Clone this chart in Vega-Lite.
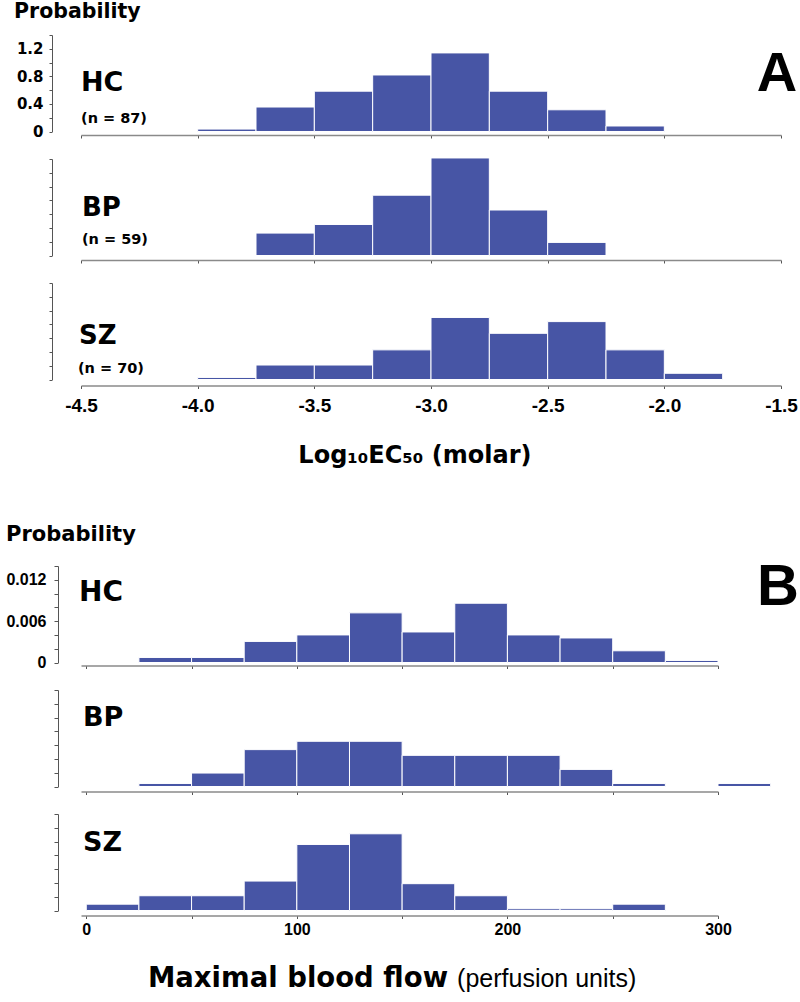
{
  "$schema": "https://vega.github.io/schema/vega-lite/v6.json",
  "background": "white",
  "padding": {"left": 5, "top": 1, "right": 5, "bottom": 5},
  "bounds": "flush",
  "spacing": 27,
  "config": {
    "view": {"stroke": null},
    "axis": {"grid": false, "labelFlush": false},
    "axisY": {"tickCount": 20, "tickSize": 3, "domainColor": "#555555", "tickColor": "#555555", "labelColor": "#000000", "labelOverlap": false, "labelBound": false, "labelFontWeight": "bold"}
  },
  "datasets": {
    "bars": [
      {"panel": "A", "group": "HC", "lo": -4.0, "hi": -3.75, "p": 0.035},
      {"panel": "A", "group": "HC", "lo": -3.75, "hi": -3.5, "p": 0.355},
      {"panel": "A", "group": "HC", "lo": -3.5, "hi": -3.25, "p": 0.585},
      {"panel": "A", "group": "HC", "lo": -3.25, "hi": -3.0, "p": 0.82},
      {"panel": "A", "group": "HC", "lo": -3.0, "hi": -2.75, "p": 1.14},
      {"panel": "A", "group": "HC", "lo": -2.75, "hi": -2.5, "p": 0.585},
      {"panel": "A", "group": "HC", "lo": -2.5, "hi": -2.25, "p": 0.315},
      {"panel": "A", "group": "HC", "lo": -2.25, "hi": -2.0, "p": 0.08},
      {"panel": "A", "group": "BP", "lo": -3.75, "hi": -3.5, "p": 0.325},
      {"panel": "A", "group": "BP", "lo": -3.5, "hi": -3.25, "p": 0.45},
      {"panel": "A", "group": "BP", "lo": -3.25, "hi": -3.0, "p": 0.875},
      {"panel": "A", "group": "BP", "lo": -3.0, "hi": -2.75, "p": 1.415},
      {"panel": "A", "group": "BP", "lo": -2.75, "hi": -2.5, "p": 0.66},
      {"panel": "A", "group": "BP", "lo": -2.5, "hi": -2.25, "p": 0.19},
      {"panel": "A", "group": "SZ", "lo": -4.0, "hi": -3.75, "p": 0.03},
      {"panel": "A", "group": "SZ", "lo": -3.75, "hi": -3.5, "p": 0.21},
      {"panel": "A", "group": "SZ", "lo": -3.5, "hi": -3.25, "p": 0.21},
      {"panel": "A", "group": "SZ", "lo": -3.25, "hi": -3.0, "p": 0.43},
      {"panel": "A", "group": "SZ", "lo": -3.0, "hi": -2.75, "p": 0.90},
      {"panel": "A", "group": "SZ", "lo": -2.75, "hi": -2.5, "p": 0.67},
      {"panel": "A", "group": "SZ", "lo": -2.5, "hi": -2.25, "p": 0.84},
      {"panel": "A", "group": "SZ", "lo": -2.25, "hi": -2.0, "p": 0.43},
      {"panel": "A", "group": "SZ", "lo": -2.0, "hi": -1.75, "p": 0.09},
      {"panel": "B", "group": "HC", "lo": 25, "hi": 50, "p": 0.00073},
      {"panel": "B", "group": "HC", "lo": 50, "hi": 75, "p": 0.00073},
      {"panel": "B", "group": "HC", "lo": 75, "hi": 100, "p": 0.00306},
      {"panel": "B", "group": "HC", "lo": 100, "hi": 125, "p": 0.0040},
      {"panel": "B", "group": "HC", "lo": 125, "hi": 150, "p": 0.0072},
      {"panel": "B", "group": "HC", "lo": 150, "hi": 175, "p": 0.00443},
      {"panel": "B", "group": "HC", "lo": 175, "hi": 200, "p": 0.0086},
      {"panel": "B", "group": "HC", "lo": 200, "hi": 225, "p": 0.0040},
      {"panel": "B", "group": "HC", "lo": 225, "hi": 250, "p": 0.00356},
      {"panel": "B", "group": "HC", "lo": 250, "hi": 275, "p": 0.0017},
      {"panel": "B", "group": "HC", "lo": 275, "hi": 300, "p": 0.0003},
      {"panel": "B", "group": "BP", "lo": 25, "hi": 50, "p": 0.00044},
      {"panel": "B", "group": "BP", "lo": 50, "hi": 75, "p": 0.00195},
      {"panel": "B", "group": "BP", "lo": 75, "hi": 100, "p": 0.00535},
      {"panel": "B", "group": "BP", "lo": 100, "hi": 125, "p": 0.00656},
      {"panel": "B", "group": "BP", "lo": 125, "hi": 150, "p": 0.00656},
      {"panel": "B", "group": "BP", "lo": 150, "hi": 175, "p": 0.00452},
      {"panel": "B", "group": "BP", "lo": 175, "hi": 200, "p": 0.00452},
      {"panel": "B", "group": "BP", "lo": 200, "hi": 225, "p": 0.00452},
      {"panel": "B", "group": "BP", "lo": 225, "hi": 250, "p": 0.00248},
      {"panel": "B", "group": "BP", "lo": 250, "hi": 275, "p": 0.00044},
      {"panel": "B", "group": "BP", "lo": 300, "hi": 325, "p": 0.00044},
      {"panel": "B", "group": "SZ", "lo": 0, "hi": 25, "p": 0.00092},
      {"panel": "B", "group": "SZ", "lo": 25, "hi": 50, "p": 0.00214},
      {"panel": "B", "group": "SZ", "lo": 50, "hi": 75, "p": 0.00214},
      {"panel": "B", "group": "SZ", "lo": 75, "hi": 100, "p": 0.00427},
      {"panel": "B", "group": "SZ", "lo": 100, "hi": 125, "p": 0.00958},
      {"panel": "B", "group": "SZ", "lo": 125, "hi": 150, "p": 0.01113},
      {"panel": "B", "group": "SZ", "lo": 150, "hi": 175, "p": 0.00389},
      {"panel": "B", "group": "SZ", "lo": 175, "hi": 200, "p": 0.00214},
      {"panel": "B", "group": "SZ", "lo": 200, "hi": 225, "p": 0.00025},
      {"panel": "B", "group": "SZ", "lo": 225, "hi": 250, "p": 0.00025},
      {"panel": "B", "group": "SZ", "lo": 250, "hi": 275, "p": 0.00092}
    ]
  },
  "vconcat": [
    {
      "width": 700, "height": 96.5,
      "layer": [
        {
          "data": {"name": "bars"},
          "transform": [{"filter": "datum.panel == 'A' && datum.group == 'HC'"}],
          "mark": {"type": "bar", "color": "#4755A5", "stroke": "#ffffff", "strokeWidth": 1},
          "encoding": {
            "x": {"field": "lo", "type": "quantitative", "scale": {"domain": [-4.5, -1.5], "nice": false, "zero": false},
                  "axis": {"title": null, "values": [-4.5, -4, -3.5, -3, -2.5, -2, -1.5], "labels": false, "offset": 3.5, "tickSize": 3, "domainColor": "#8a8a8a", "domainWidth": 1.5, "tickColor": "#555555"}},
            "x2": {"field": "hi"},
            "y": {"field": "p", "type": "quantitative", "scale": {"domain": [0, 1.4], "nice": false},
                  "axis": {"title": null, "values": [0, 0.2, 0.4, 0.6, 0.8, 1.0, 1.2, 1.4], "tickCount": 20, "labelOverlap": false, "labelBound": false, "offset": 29, "labelPadding": 6, "labelFont": "DejaVu Sans", "labelFontSize": 15, "labelExpr": "datum.value == 0 ? '0' : ((datum.value > 0.39 && datum.value < 0.41) || (datum.value > 0.79 && datum.value < 0.81) || (datum.value > 1.19 && datum.value < 1.21)) ? format(datum.value, '.1f') : ''"}},
            "y2": {"datum": 0}
          }
        },
        {
          "data": {"values": [{"t": "HC"}]},
          "mark": {"type": "text", "align": "left", "baseline": "alphabetic", "font": "DejaVu Sans", "fontWeight": "bold", "fontSize": 27, "color": "#000000"},
          "encoding": {"x": {"datum": -4.5}, "y": {"datum": 0.588, "axis": {"title": null, "values": [0, 0.2, 0.4, 0.6, 0.8, 1.0, 1.2, 1.4], "tickCount": 20, "labelOverlap": false, "labelBound": false, "offset": 29, "labelPadding": 6, "labelFont": "DejaVu Sans", "labelFontSize": 15, "labelExpr": "datum.value == 0 ? '0' : ((datum.value > 0.39 && datum.value < 0.41) || (datum.value > 0.79 && datum.value < 0.81) || (datum.value > 1.19 && datum.value < 1.21)) ? format(datum.value, '.1f') : ''"}}, "text": {"field": "t"}}
        },
        {
          "data": {"values": [{"t": "(n = 87)"}]},
          "mark": {"type": "text", "align": "left", "baseline": "alphabetic", "font": "DejaVu Sans", "fontWeight": "bold", "fontSize": 14.5, "color": "#000000"},
          "encoding": {"x": {"datum": -4.5}, "y": {"datum": 0.123, "axis": {"title": null, "values": [0, 0.2, 0.4, 0.6, 0.8, 1.0, 1.2, 1.4], "tickCount": 20, "labelOverlap": false, "labelBound": false, "offset": 29, "labelPadding": 6, "labelFont": "DejaVu Sans", "labelFontSize": 15, "labelExpr": "datum.value == 0 ? '0' : ((datum.value > 0.39 && datum.value < 0.41) || (datum.value > 0.79 && datum.value < 0.81) || (datum.value > 1.19 && datum.value < 1.21)) ? format(datum.value, '.1f') : ''"}}, "text": {"field": "t"}}
        },
        {
          "data": {"values": [{"t": "A"}]},
          "mark": {"type": "text", "align": "center", "baseline": "alphabetic", "font": "Liberation Sans", "fontWeight": "bold", "fontSize": 56, "color": "#000000"},
          "encoding": {"x": {"datum": -1.517}, "y": {"datum": 0.588, "axis": {"title": null, "values": [0, 0.2, 0.4, 0.6, 0.8, 1.0, 1.2, 1.4], "tickCount": 20, "labelOverlap": false, "labelBound": false, "offset": 29, "labelPadding": 6, "labelFont": "DejaVu Sans", "labelFontSize": 15, "labelExpr": "datum.value == 0 ? '0' : ((datum.value > 0.39 && datum.value < 0.41) || (datum.value > 0.79 && datum.value < 0.81) || (datum.value > 1.19 && datum.value < 1.21)) ? format(datum.value, '.1f') : ''"}}, "text": {"field": "t"}}
        },
        {
          "data": {"values": [{"t": "Probability"}]},
          "mark": {"type": "text", "align": "left", "baseline": "alphabetic", "font": "DejaVu Sans", "fontWeight": "bold", "fontSize": 20.5, "color": "#000000"},
          "encoding": {"x": {"datum": -4.787}, "y": {"datum": 1.647, "axis": {"title": null, "values": [0, 0.2, 0.4, 0.6, 0.8, 1.0, 1.2, 1.4], "tickCount": 20, "labelOverlap": false, "labelBound": false, "offset": 29, "labelPadding": 6, "labelFont": "DejaVu Sans", "labelFontSize": 15, "labelExpr": "datum.value == 0 ? '0' : ((datum.value > 0.39 && datum.value < 0.41) || (datum.value > 0.79 && datum.value < 0.81) || (datum.value > 1.19 && datum.value < 1.21)) ? format(datum.value, '.1f') : ''"}}, "text": {"field": "t"}}
        }
      ]
    },
    {
      "width": 700, "height": 96.5,
      "layer": [
        {
          "data": {"name": "bars"},
          "transform": [{"filter": "datum.panel == 'A' && datum.group == 'BP'"}],
          "mark": {"type": "bar", "color": "#4755A5", "stroke": "#ffffff", "strokeWidth": 1},
          "encoding": {
            "x": {"field": "lo", "type": "quantitative", "scale": {"domain": [-4.5, -1.5], "nice": false, "zero": false},
                  "axis": {"title": null, "values": [-4.5, -4, -3.5, -3, -2.5, -2, -1.5], "labels": false, "offset": 4.5, "tickSize": 3, "domainColor": "#8a8a8a", "domainWidth": 1.5, "tickColor": "#555555"}},
            "x2": {"field": "hi"},
            "y": {"field": "p", "type": "quantitative", "scale": {"domain": [0, 1.4], "nice": false},
                  "axis": {"title": null, "values": [0, 0.2, 0.4, 0.6, 0.8, 1.0, 1.2, 1.4], "tickCount": 20, "labels": false, "offset": 29}},
            "y2": {"datum": 0}
          }
        },
        {
          "data": {"values": [{"t": "BP"}]},
          "mark": {"type": "text", "align": "left", "baseline": "alphabetic", "font": "DejaVu Sans", "fontWeight": "bold", "fontSize": 26, "color": "#000000"},
          "encoding": {"x": {"datum": -4.496}, "y": {"datum": 0.58, "axis": {"title": null, "values": [0, 0.2, 0.4, 0.6, 0.8, 1.0, 1.2, 1.4], "tickCount": 20, "labels": false, "offset": 29}}, "text": {"field": "t"}}
        },
        {
          "data": {"values": [{"t": "(n = 59)"}]},
          "mark": {"type": "text", "align": "left", "baseline": "alphabetic", "font": "DejaVu Sans", "fontWeight": "bold", "fontSize": 14.5, "color": "#000000"},
          "encoding": {"x": {"datum": -4.496}, "y": {"datum": 0.16, "axis": {"title": null, "values": [0, 0.2, 0.4, 0.6, 0.8, 1.0, 1.2, 1.4], "tickCount": 20, "labels": false, "offset": 29}}, "text": {"field": "t"}}
        }
      ]
    },
    {
      "width": 700, "height": 96.5,
      "layer": [
        {
          "data": {"name": "bars"},
          "transform": [{"filter": "datum.panel == 'A' && datum.group == 'SZ'"}],
          "mark": {"type": "bar", "color": "#4755A5", "stroke": "#ffffff", "strokeWidth": 1},
          "encoding": {
            "x": {"field": "lo", "type": "quantitative", "scale": {"domain": [-4.5, -1.5], "nice": false, "zero": false},
                  "axis": {"title": null, "values": [-4.5, -4, -3.5, -3, -2.5, -2, -1.5], "offset": 6, "tickSize": 3, "labelPadding": 8, "labelFont": "Liberation Sans", "labelFontWeight": "bold", "labelFontSize": 19, "labelColor": "#000000", "labelOverlap": false, "labelBound": false, "labelExpr": "(datum.value < 0 ? '-' : '') + format(abs(datum.value), '.1f')", "domainColor": "#8a8a8a", "domainWidth": 1.5, "tickColor": "#555555"}},
            "x2": {"field": "hi"},
            "y": {"field": "p", "type": "quantitative", "scale": {"domain": [0, 1.4], "nice": false},
                  "axis": {"title": null, "values": [0, 0.2, 0.4, 0.6, 0.8, 1.0, 1.2, 1.4], "tickCount": 20, "labels": false, "offset": 29}},
            "y2": {"datum": 0}
          }
        },
        {
          "data": {"values": [{"t": "SZ"}]},
          "mark": {"type": "text", "align": "left", "baseline": "alphabetic", "font": "DejaVu Sans", "fontWeight": "bold", "fontSize": 26, "color": "#000000"},
          "encoding": {"x": {"datum": -4.509}, "y": {"datum": 0.515, "axis": {"title": null, "values": [0, 0.2, 0.4, 0.6, 0.8, 1.0, 1.2, 1.4], "tickCount": 20, "labels": false, "offset": 29}}, "text": {"field": "t"}}
        },
        {
          "data": {"values": [{"t": "(n = 70)"}]},
          "mark": {"type": "text", "align": "left", "baseline": "alphabetic", "font": "DejaVu Sans", "fontWeight": "bold", "fontSize": 14.5, "color": "#000000"},
          "encoding": {"x": {"datum": -4.513}, "y": {"datum": 0.094, "axis": {"title": null, "values": [0, 0.2, 0.4, 0.6, 0.8, 1.0, 1.2, 1.4], "tickCount": 20, "labels": false, "offset": 29}}, "text": {"field": "t"}}
        }
      ]
    },
    {
      "width": 700, "height": 132,
      "layer": [
        {
          "data": {"values": [{"t": "Log₁₀EC₅₀ (molar)"}]},
          "mark": {"type": "text", "align": "center", "baseline": "alphabetic", "font": "DejaVu Sans", "fontWeight": "bold", "fontSize": 24, "color": "#000000"},
          "encoding": {
            "x": {"datum": 0.477, "type": "quantitative", "scale": {"domain": [0, 1], "nice": false}, "axis": null},
            "y": {"datum": 0.572, "type": "quantitative", "scale": {"domain": [0, 1], "nice": false}, "axis": null},
            "text": {"field": "t"}
          }
        },
        {
          "data": {"values": [{"t": "Probability"}]},
          "mark": {"type": "text", "align": "left", "baseline": "alphabetic", "font": "DejaVu Sans", "fontWeight": "bold", "fontSize": 21, "color": "#000000"},
          "encoding": {
            "x": {"datum": -0.107, "type": "quantitative", "axis": null},
            "y": {"datum": -0.0114, "type": "quantitative", "axis": null},
            "text": {"field": "t"}
          }
        }
      ]
    },
    {
      "width": 637, "height": 96.5,
      "layer": [
        {
          "data": {"name": "bars"},
          "transform": [{"filter": "datum.panel == 'B' && datum.group == 'HC'"}],
          "mark": {"type": "bar", "color": "#4755A5", "stroke": "#ffffff", "strokeWidth": 1},
          "encoding": {
            "x": {"field": "lo", "type": "quantitative", "scale": {"domain": [-2.5, 300], "nice": false, "zero": false},
                  "axis": {"title": null, "values": [0, 50, 100, 150, 200, 250, 300], "labels": false, "offset": 3, "tickSize": 3, "domainColor": "#8a8a8a", "domainWidth": 1.5, "tickColor": "#555555"}},
            "x2": {"field": "hi"},
            "y": {"field": "p", "type": "quantitative", "scale": {"domain": [0, 0.014], "nice": false},
                  "axis": {"title": null, "values": [0, 0.002, 0.004, 0.006, 0.008, 0.010, 0.012, 0.014], "tickCount": 20, "labelOverlap": false, "labelBound": false, "offset": 23, "tickSize": 4, "labelPadding": 8, "labelFont": "Liberation Sans", "labelFontSize": 16, "labelExpr": "datum.value == 0 ? '0' : ((datum.value > 0.0059 && datum.value < 0.0061) || (datum.value > 0.0119 && datum.value < 0.0121)) ? format(datum.value, '.3f') : ''"}},
            "y2": {"datum": 0}
          }
        },
        {
          "data": {"values": [{"t": "HC"}]},
          "mark": {"type": "text", "align": "left", "baseline": "alphabetic", "font": "DejaVu Sans", "fontWeight": "bold", "fontSize": 28, "color": "#000000"},
          "encoding": {"x": {"datum": -3.45}, "y": {"datum": 0.00889, "axis": {"title": null, "values": [0, 0.002, 0.004, 0.006, 0.008, 0.010, 0.012, 0.014], "tickCount": 20, "labelOverlap": false, "labelBound": false, "offset": 23, "tickSize": 4, "labelPadding": 8, "labelFont": "Liberation Sans", "labelFontSize": 16, "labelExpr": "datum.value == 0 ? '0' : ((datum.value > 0.0059 && datum.value < 0.0061) || (datum.value > 0.0119 && datum.value < 0.0121)) ? format(datum.value, '.3f') : ''"}}, "text": {"field": "t"}}
        },
        {
          "data": {"values": [{"t": "B"}]},
          "mark": {"type": "text", "align": "center", "baseline": "alphabetic", "font": "Liberation Sans", "fontWeight": "bold", "fontSize": 58, "color": "#000000"},
          "encoding": {"x": {"datum": 328.5}, "y": {"datum": 0.00827, "axis": {"title": null, "values": [0, 0.002, 0.004, 0.006, 0.008, 0.010, 0.012, 0.014], "tickCount": 20, "labelOverlap": false, "labelBound": false, "offset": 23, "tickSize": 4, "labelPadding": 8, "labelFont": "Liberation Sans", "labelFontSize": 16, "labelExpr": "datum.value == 0 ? '0' : ((datum.value > 0.0059 && datum.value < 0.0061) || (datum.value > 0.0119 && datum.value < 0.0121)) ? format(datum.value, '.3f') : ''"}}, "text": {"field": "t"}}
        }
      ]
    },
    {
      "width": 637, "height": 96.5,
      "layer": [
        {
          "data": {"name": "bars"},
          "transform": [{"filter": "datum.panel == 'B' && datum.group == 'BP'"}],
          "mark": {"type": "bar", "color": "#4755A5", "stroke": "#ffffff", "strokeWidth": 1},
          "encoding": {
            "x": {"field": "lo", "type": "quantitative", "scale": {"domain": [-2.5, 300], "nice": false, "zero": false},
                  "axis": {"title": null, "values": [0, 50, 100, 150, 200, 250, 300], "labels": false, "offset": 5, "tickSize": 3, "domainColor": "#8a8a8a", "domainWidth": 1.5, "tickColor": "#555555"}},
            "x2": {"field": "hi"},
            "y": {"field": "p", "type": "quantitative", "scale": {"domain": [0, 0.014], "nice": false},
                  "axis": {"title": null, "values": [0, 0.002, 0.004, 0.006, 0.008, 0.010, 0.012, 0.014], "tickCount": 20, "labels": false, "offset": 23, "tickSize": 4}},
            "y2": {"datum": 0}
          }
        },
        {
          "data": {"values": [{"t": "BP"}]},
          "mark": {"type": "text", "align": "left", "baseline": "alphabetic", "font": "DejaVu Sans", "fontWeight": "bold", "fontSize": 27, "color": "#000000"},
          "encoding": {"x": {"datum": -1.55}, "y": {"datum": 0.00878, "axis": {"title": null, "values": [0, 0.002, 0.004, 0.006, 0.008, 0.010, 0.012, 0.014], "tickCount": 20, "labels": false, "offset": 23, "tickSize": 4}}, "text": {"field": "t"}}
        }
      ]
    },
    {
      "width": 637, "height": 96.5,
      "layer": [
        {
          "data": {"name": "bars"},
          "transform": [{"filter": "datum.panel == 'B' && datum.group == 'SZ'"}],
          "mark": {"type": "bar", "color": "#4755A5", "stroke": "#ffffff", "strokeWidth": 1},
          "encoding": {
            "x": {"field": "lo", "type": "quantitative", "scale": {"domain": [-2.5, 300], "nice": false, "zero": false},
                  "axis": {"title": null, "values": [0, 50, 100, 150, 200, 250, 300], "offset": 5, "tickSize": 3, "labelPadding": 3, "labelFont": "Liberation Sans", "labelFontWeight": "bold", "labelFontSize": 16, "labelColor": "#000000", "labelOverlap": false, "labelBound": false, "labelExpr": "datum.value % 100 == 0 ? format(datum.value, 'd') : ''", "domainColor": "#8a8a8a", "domainWidth": 1.5, "tickColor": "#555555"}},
            "x2": {"field": "hi"},
            "y": {"field": "p", "type": "quantitative", "scale": {"domain": [0, 0.014], "nice": false},
                  "axis": {"title": null, "values": [0, 0.002, 0.004, 0.006, 0.008, 0.010, 0.012, 0.014], "tickCount": 20, "labels": false, "offset": 23, "tickSize": 4}},
            "y2": {"datum": 0}
          }
        },
        {
          "data": {"values": [{"t": "SZ"}]},
          "mark": {"type": "text", "align": "left", "baseline": "alphabetic", "font": "DejaVu Sans", "fontWeight": "bold", "fontSize": 27, "color": "#000000"},
          "encoding": {"x": {"datum": -1.55}, "y": {"datum": 0.00856, "axis": {"title": null, "values": [0, 0.002, 0.004, 0.006, 0.008, 0.010, 0.012, 0.014], "tickCount": 20, "labels": false, "offset": 23, "tickSize": 4}}, "text": {"field": "t"}}
        },
        {
          "data": {"values": [{"t": "Maximal blood flow"}]},
          "mark": {"type": "text", "align": "right", "baseline": "alphabetic", "font": "DejaVu Sans", "fontWeight": "bold", "fontSize": 27.5, "color": "#000000"},
          "encoding": {"x": {"datum": 171.8}, "y": {"datum": -0.01117, "axis": {"title": null, "values": [0, 0.002, 0.004, 0.006, 0.008, 0.010, 0.012, 0.014], "tickCount": 20, "labels": false, "offset": 23, "tickSize": 4}}, "text": {"field": "t"}}
        },
        {
          "data": {"values": [{"t": "(perfusion units)"}]},
          "mark": {"type": "text", "align": "left", "baseline": "alphabetic", "font": "Liberation Sans", "fontSize": 25, "color": "#000000"},
          "encoding": {"x": {"datum": 176.1}, "y": {"datum": -0.01117, "axis": {"title": null, "values": [0, 0.002, 0.004, 0.006, 0.008, 0.010, 0.012, 0.014], "tickCount": 20, "labels": false, "offset": 23, "tickSize": 4}}, "text": {"field": "t"}}
        }
      ]
    }
  ]
}
